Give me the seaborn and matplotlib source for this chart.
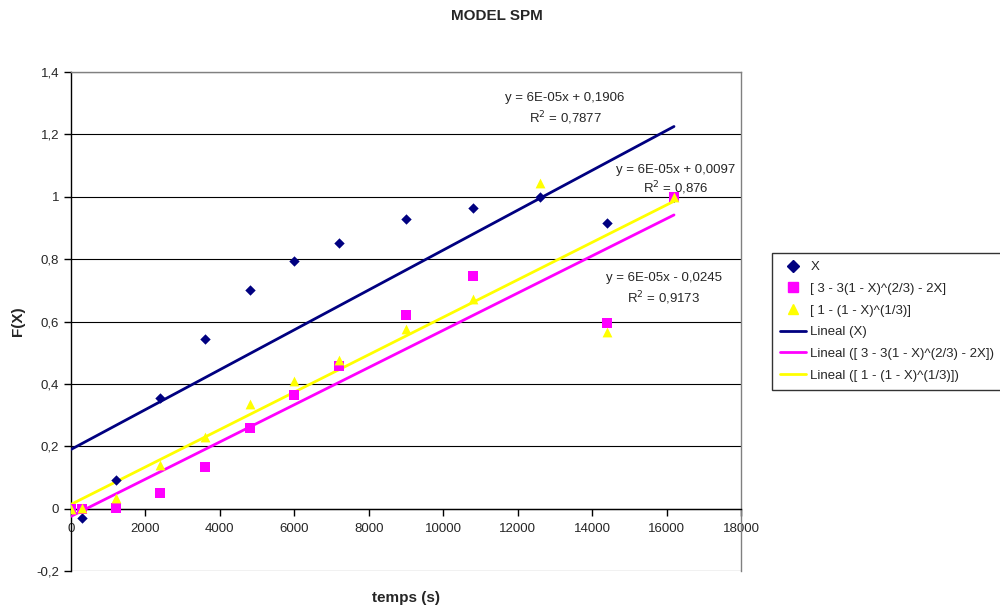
import numpy as np
import pandas as pd
import matplotlib
matplotlib.use("Agg")
import matplotlib.pyplot as plt
import seaborn as sns
from matplotlib.lines import Line2D

sns.set_theme(style="white")
plt.rcParams['font.family'] = ['Liberation Sans', 'DejaVu Sans']

# Data
t_x = [0, 300, 1200, 2400, 3600, 4800, 6000, 7200, 9000, 10800, 12600, 14400, 16200]
x_vals = [0.0, -0.03, 0.093, 0.356, 0.545, 0.70, 0.795, 0.853, 0.93, 0.965, 1.0, 0.917, 1.0]

t_sq = [0, 300, 1200, 2400, 3600, 4800, 6000, 7200, 9000, 10800, 14400, 16200]
sq_vals = [0.0, 0.0, 0.003, 0.05, 0.135, 0.257, 0.365, 0.458, 0.62, 0.747, 0.596, 1.0]

t_tr = [0, 300, 1200, 2400, 3600, 4800, 6000, 7200, 9000, 10800, 12600, 14400, 16200]
tr_vals = [0.0, 0.003, 0.035, 0.14, 0.23, 0.335, 0.41, 0.475, 0.577, 0.672, 1.045, 0.565, 1.0]

labels = ["X", "[ 3 - 3(1 - X)^(2/3) - 2X]", "[ 1 - (1 - X)^(1/3)]"]
y_ticks = [-0.2, 0.0, 0.2, 0.4, 0.6, 0.8, 1.0, 1.2, 1.4]
y_tick_labels = ["-0,2", "0", "0,2", "0,4", "0,6", "0,8", "1", "1,2", "1,4"]
x_ticks = list(range(0, 18001, 2000))

colors = ["#000080", "#FF00FF", "#FFFF00"]
markers = ["D", "s", "^"]
msizes = [28, 50, 50]

eq_texts = [("y = 6E-05x + 0,1906", "R$^2$ = 0,7877", 13272, 1.317, 1.253),
            ("y = 6E-05x + 0,0097", "R$^2$ = 0,876", 16254, 1.087, 1.026),
            ("y = 6E-05x - 0,0245", "R$^2$ = 0,9173", 15931, 0.740, 0.676)]

fig = plt.figure(figsize=(10, 6.08), dpi=100)
ax = fig.add_axes([0.071, 1 - 571 / 608, 0.670, (571 - 72) / 608])

series = [(t_x, x_vals), (t_sq, sq_vals), (t_tr, tr_vals)]
dfs = [pd.DataFrame({"t": t, "v": v}) for t, v in series]

for i, df in enumerate(dfs):
    sns.regplot(data=df, x="t", y="v", ax=ax, scatter=False, ci=None, truncate=True,
                line_kws=dict(color=colors[i], lw=2, zorder=3))
for i, df in enumerate(dfs):
    sns.scatterplot(data=df, x="t", y="v", ax=ax, marker=markers[i], color=colors[i],
                    s=msizes[i], edgecolor=colors[i], linewidth=0, zorder=4, legend=False)

ax.set_xlim(0, 18000)
ax.set_ylim(-0.2, 1.4)
ax.set_xticks(x_ticks)
ax.set_xticklabels([str(v) for v in x_ticks])
ax.set_yticks(y_ticks)
ax.set_yticklabels(y_tick_labels)
for y in y_ticks:
    ax.axhline(y, color="black", lw=0.8, zorder=1)

for sp in ["top", "right"]:
    ax.spines[sp].set_color("#808080")
    ax.spines[sp].set_linewidth(1)
ax.spines["bottom"].set_position(("data", 0))
ax.spines["bottom"].set_color("black")
ax.spines["left"].set_color("black")
ax.spines["left"].set_linewidth(1)
ax.spines["bottom"].set_linewidth(1)
ax.tick_params(axis="both", which="both", direction="out", length=5, width=1, color="black",
               labelsize=9.5, bottom=True, left=True)
ax.tick_params(axis="x", pad=5)

ax.set_xlabel("temps (s)", fontsize=11, fontweight="bold")
ax.xaxis.set_label_coords(0.5, -0.04)
ax.set_ylabel("F(X)", fontsize=11, fontweight="bold")
ax.yaxis.set_label_coords(-0.068, 0.5)

for l1, l2, xt, y1, y2 in eq_texts:
    ax.text(xt, y1, l1, ha="center", va="center", fontsize=9.5, zorder=5, clip_on=False)
    ax.text(xt, y2, l2, ha="center", va="center", fontsize=9.5, zorder=5, clip_on=False)

fig.suptitle("MODEL SPM", x=0.497, y=0.985, fontsize=11, fontweight="bold")

handles = [Line2D([], [], ls="none", marker=markers[i], color=colors[i],
                  markersize=[6, 7, 7][i]) for i in range(3)]
handles += [Line2D([], [], color=colors[i], lw=2) for i in range(3)]
leg_labels = labels + ["Lineal (X)", "Lineal ([ 3 - 3(1 - X)^(2/3) - 2X])", "Lineal ([ 1 - (1 - X)^(1/3)])"]
leg = fig.legend(handles, leg_labels, loc="upper left", bbox_to_anchor=(0.772, 1 - 253 / 608),
                 fontsize=9.5, frameon=True, fancybox=False, handlelength=2.0,
                 handletextpad=0.3, borderpad=0.6, labelspacing=0.72, borderaxespad=0)
leg.get_frame().set_edgecolor("black")
leg.get_frame().set_linewidth(1)

fig.savefig("out.png", dpi=100)
